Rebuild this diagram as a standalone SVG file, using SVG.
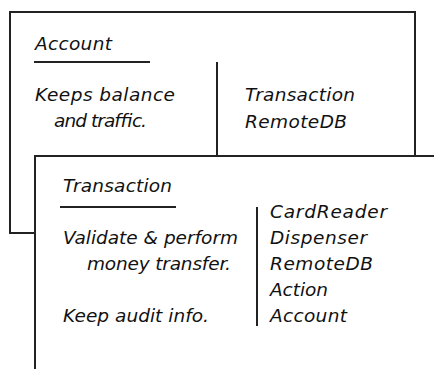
<svg xmlns="http://www.w3.org/2000/svg" width="434" height="369" viewBox="0 0 434 369">
<style>
.card{fill:#fff;stroke:#222;stroke-width:2}
.ln{stroke:#222;stroke-width:2;fill:none}
text{font-family:"DejaVu Sans","Liberation Sans",sans-serif;font-style:italic;font-size:18.5px;fill:#111}
</style>
<rect width="434" height="369" fill="#fff"/>
<g id="account">
<rect class="card" x="10" y="12" width="405" height="221"/>
<text x="35" y="50" textLength="77">Account</text>
<line class="ln" x1="34" y1="62" x2="150" y2="62"/>
<text x="35" y="101" textLength="140">Keeps balance</text>
<text x="54" y="127" textLength="93">and traffic.</text>
<line class="ln" x1="217" y1="62" x2="217" y2="156"/>
<text x="245" y="101" textLength="110">Transaction</text>
<text x="245" y="128" textLength="102">RemoteDB</text>
</g>
<g id="transaction">
<rect class="card" x="35" y="156" width="420" height="230"/>
<text x="63" y="192" textLength="109">Transaction</text>
<line class="ln" x1="60" y1="207" x2="176" y2="207"/>
<text x="63" y="244" textLength="175">Validate &amp; perform</text>
<text x="87" y="270" textLength="144">money transfer.</text>
<text x="63" y="322" textLength="146">Keep audit info.</text>
<line class="ln" x1="257" y1="207" x2="257" y2="326"/>
<text x="270" y="218" textLength="117">CardReader</text>
<text x="270" y="244" textLength="97">Dispenser</text>
<text x="270" y="270" textLength="103">RemoteDB</text>
<text x="270" y="296" textLength="58">Action</text>
<text x="270" y="322" textLength="77">Account</text>
</g>
<g id="connectors"></g>
</svg>
